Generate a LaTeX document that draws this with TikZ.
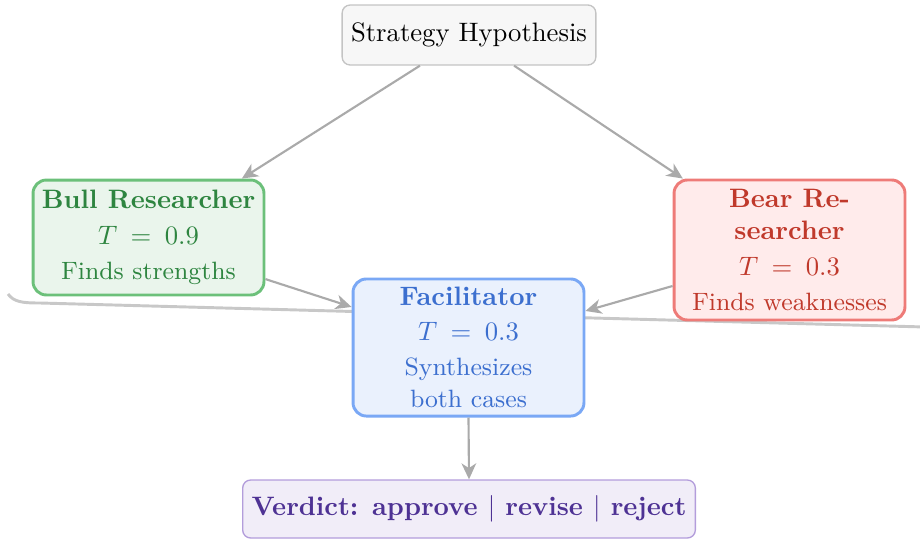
\documentclass[tikz,border=0pt]{standalone}
\usetikzlibrary{arrows.meta,calc}
\definecolor{sfill}{HTML}{F7F7F7}
\definecolor{sdraw}{HTML}{C4C4C4}
\definecolor{bullfill}{HTML}{EAF5EC}
\definecolor{bulldraw}{HTML}{6CC07A}
\definecolor{bulltext}{HTML}{2E8540}
\definecolor{bearfill}{HTML}{FFEBEB}
\definecolor{beardraw}{HTML}{EE7B78}
\definecolor{beartext}{HTML}{C0392B}
\definecolor{facfill}{HTML}{EAF1FD}
\definecolor{facdraw}{HTML}{7AA8F5}
\definecolor{factext}{HTML}{3C6FCF}
\definecolor{verfill}{HTML}{F1EDF8}
\definecolor{verdraw}{HTML}{B39DDB}
\definecolor{vertext}{HTML}{4E3294}
\definecolor{arrowgray}{HTML}{AAAAAA}
\definecolor{loopgray}{HTML}{C8C8C8}
\newcommand{\tval}[1]{$T\mathrel{\mskip4mu=\mskip4mu}#1$}
\newcommand{\desc}[1]{{\fontsize{9.4}{11.5}\selectfont #1}}
\tikzset{
  agent/.style={rounded corners=5pt, line width=1.1pt, align=center,
    minimum width=86.6pt, inner sep=2pt},
  flow/.style={draw=arrowgray, line width=0.8pt,
    -{Stealth[length=6pt,width=5.5pt,inset=1.8pt]}},
}
\begin{document}
\begin{tikzpicture}[x=0.375pt,y=-0.375pt]
\useasboundingbox (0,0) rectangle (920,539);
% background loop line
\coordinate (l1) at (8,294);
\coordinate (l2) at (925,327);
\draw[loopgray, line width=1.1pt] (l1) .. controls (14,302) and (22,303) .. (40,303) -- (l2);

\node[draw=sdraw, fill=sfill, rounded corners=3pt, line width=0.5pt,
      minimum width=95pt, minimum height=22.5pt] (S) at (469,35) {Strategy Hypothesis};

\node[agent, draw=bulldraw, fill=bullfill, text=bulltext, minimum height=43.1pt] (B) at (148.5,237.5)
  {\textbf{Bull Researcher}\\[1.2pt] \tval{0.9}\\[1.2pt] \desc{Finds strengths}};

\node[agent, draw=beardraw, fill=bearfill, text=beartext, minimum height=52.5pt] (R) at (789.5,250)
  {\textbf{Bear Re-}\\ \textbf{searcher}\\[1.2pt] \tval{0.3}\\[1.2pt] \desc{Finds weaknesses}};

\node[agent, draw=facdraw, fill=facfill, text=factext, minimum height=51.4pt] (F) at (468.5,347.5)
  {\textbf{Facilitator}\\[1.2pt] \tval{0.3}\\[1.2pt] \desc{Synthesizes}\\ \desc{both cases}};

\node[draw=verdraw, fill=verfill, text=vertext, rounded corners=3pt, line width=0.5pt,
      minimum width=169.5pt, minimum height=21.75pt] (V) at (469,509)
  {\textbf{Verdict: approve $|$ revise $|$ reject}};

\draw[flow] ([xshift=-18.4pt]S.south) -- ([xshift=35pt]B.north);
\draw[flow] ([xshift=16.9pt]S.south) -- ([xshift=-40pt]R.north);
\draw[flow] ([yshift=-15.6pt]B.east) -- ([yshift=15.2pt]F.west);
\draw[flow] ([yshift=-13.5pt]R.west) -- ([yshift=13.7pt]F.east);
\draw[flow] (F.south) -- (V.north);
\end{tikzpicture}
\end{document}
